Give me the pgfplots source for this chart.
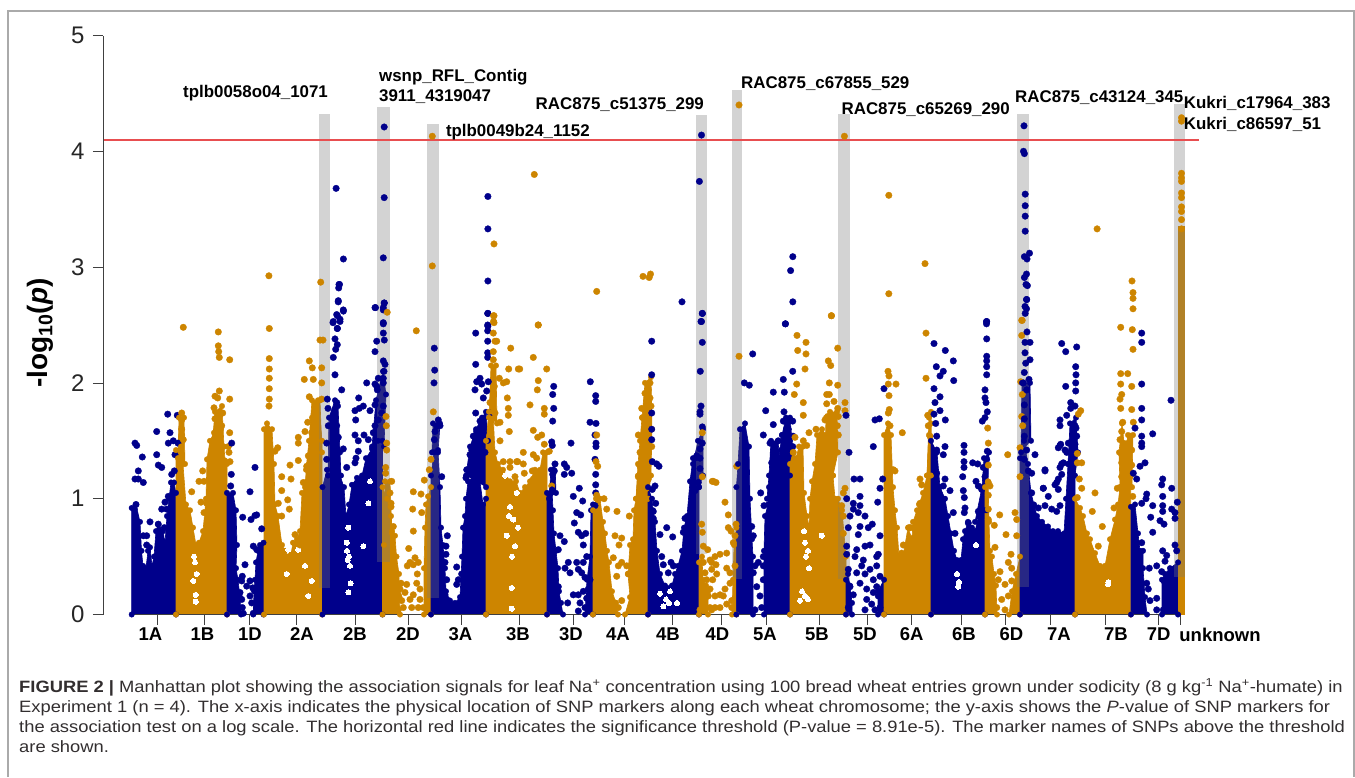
\documentclass[border=0pt]{standalone}
\usepackage{pgfplots}
\pgfplotsset{compat=1.18}
\usepackage{fontspec}
\setmainfont{Liberation Sans}
\newfontfamily\capfont{Liberation Sans}[FakeStretch=1.119]
\definecolor{nv}{RGB}{0,0,139}
\definecolor{og}{RGB}{205,133,0}
\definecolor{redl}{RGB}{232,78,80}
\definecolor{barg}{RGB}{121,121,121}
\definecolor{frameg}{RGB}{170,170,170}
\definecolor{cap}{RGB}{50,46,47}
\pgfplotsset{
 ba/.style={fill=nv,color=nv,line width=0.6pt,line join=round,mark=*,mark size=2.8pt,mark options={fill=nv,line width=0.3pt}},
 oa/.style={fill=og,color=og,line width=0.6pt,line join=round,mark=*,mark size=2.8pt,mark options={fill=og,line width=0.3pt}},
 bp/.style={only marks,color=nv,mark=*,mark size=3.3pt,mark options={fill=nv,line width=0.3pt}},
 op/.style={only marks,color=og,mark=*,mark size=3.3pt,mark options={fill=og,line width=0.3pt}},
 wh/.style={only marks,color=white,mark=*,mark size=2.5pt,mark options={fill=white,line width=0pt}},
 gb/.style={fill=barg,fill opacity=0.33,draw=none},
}
\newcommand{\lab}[3]{\node[anchor=west,inner sep=0pt,font=\fontsize{16.9}{18}\selectfont\bfseries,text=black] at (axis cs:#1,#2) {#3};}
\begin{document}
\begin{tikzpicture}
\begin{axis}[
 scale only axis,width=1252pt,height=579pt,
 xmin=103,xmax=1355,ymin=0,ymax=5,
 axis y line=left,axis x line=bottom,
 axis line style={-,line width=0.8pt,draw=black!75},
 x axis line style={draw=none},
 tick style={line width=0.8pt,draw=black!75},
 tick align=outside,
 ytick={0,1,2,3,4,5},
 major tick length=10pt,
 /pgf/number format/assume math mode=true,
 y tick label style={font=\fontsize{24}{26}\selectfont,text=black!85,xshift=-5pt},
 xtick={157,204.7,249,296,355.6,408.5,461,519.5,573.7,624.5,672,721,766.5,819,867,911.6,961,1005,1050,1105,1158,1180.6},
 xticklabels={},
 x tick label style={font=\fontsize{18.5}{19}\selectfont\bfseries,text=black,yshift=-10pt},
 extra x ticks={150.5,202.5,250,302,355,408,460.5,518,571,618,668,717.5,765,817,865,911.6,964,1011.5,1059,1116,1158.7,1220},
 extra x tick labels={1A,1B,1D,2A,2B,2D,3A,3B,3D,4A,4B,4D,5A,5B,5D,6A,6B,6D,7A,7B,7D,unknown},
 extra x tick style={major tick length=0pt,tick style={draw=none}},
 ylabel={\fontsize{28}{30}\selectfont\bfseries -log\textsubscript{10}(\textit{p})},
 every axis y label/.style={at={(axis description cs:-0.0503,0.486)},rotate=90,anchor=center},
 axis on top=false,
]
% 1A
\addplot[ba] coordinates {(131.7,0)(131.7,.92)(136,.95)(140,.8)(141.5,.55)(143,.42)(146,.40)(148,.55)(150,.58)(152,.42)(154,.5)(156,.72)(158,.78)(163,.72)(165,.62)(167,.85)(169,1.0)(171,1.14)(174,1.14)(176,1.05)(176,0)};
\addplot[bp] coordinates {(135,1.48)(136.7,1.46)(142.3,1.36)(156.7,1.58)(156.7,1.38)(167.7,1.73)(177.3,1.72)(170,1.57)(168.3,1.48)(173.3,1.50)(178,1.48)(175,1.38)(158.3,1.29)(161.7,1.27)(138.3,1.24)(135,1.17)(138.3,1.17)(143.3,1.14)(174.3,1.24)(171.7,1.21)(136,.95)(134.3,.91)(161.7,.91)(165,.97)(168.3,1.02)(150,.80)(158.3,.78)(146.7,.68)(146.7,.60)(143.3,.68)(164.3,.75)(166.7,.91)};
% 1B
\addplot[oa] coordinates {(176,0)(176,1.42)(181,1.45)(183,1.3)(186,.95)(190,.9)(193,.75)(196,.6)(199,.62)(203,.72)(206,1.0)(207,1.34)(210,1.5)(214,1.57)(221,1.6)(224,1.45)(225,1.33)(227,1.3)(227,0)};
\addplot[oa] coordinates {(178,1.35)(179,1.7)(184,1.7)(185,1.3)};
\addplot[oa] coordinates {(212,1.45)(215,1.75)(222,1.8)(224,1.45)};
\addplot[wh] coordinates {(195,.45)(193.3,.29)(196.7,.35)(195.7,.17)(195.7,.11)(194,.5)};
\addplot[op] coordinates {(181.7,1.74)(181.7,1.68)(181.7,1.60)(181.7,1.55)(183.3,1.51)(183.3,2.48)(218.3,2.44)(218.3,2.32)(218.7,2.27)(219.3,2.22)(229.7,2.20)(229.7,1.86)(219.3,1.93)(215,1.885)(217.7,1.87)(214,1.785)(222.7,1.74)(219.3,1.72)(215,1.69)(221.7,1.63)(229.7,1.57)(228.3,1.45)(230,1.32)(229,1.40)(202.7,1.24)(204,1.15)(199,1.15)(191.7,1.06)(201,.97)(206.7,.96)(204,.88)(207.7,.76)};
% 1D
\addplot[ba] coordinates {(227,0)(227,1.05)(233,1.05)(236,.9)(237,.6)(236,.4)(238,.3)(240,.15)(241,0)};
\addplot[ba] coordinates {(253.3,0)(254,.2)(255,.3)(256,.45)(258,.55)(260,.6)(263.5,.62)(263.5,0)};
\addplot[bp] coordinates {(231.7,1.48)(231.3,1.21)(230.7,1.11)(250,1.06)(255,1.27)(242.7,.84)(251,.82)(255,.855)(256.7,.86)(261.7,.74)(253.3,.59)(256.7,.56)(245,.43)(242.3,.33)(241.7,.29)(250,.29)(252.7,.23)(246.7,.245)(240,.19)(241.7,.13)(242.3,.06)(250,.16)(251.7,.10)(243.3,.01)(253.3,.01)};
% 2A
\addplot[oa] coordinates {(264,0)(264,1.6)(267,1.65)(272,1.6)(274,1.3)(275,.95)(278,.85)(282,.6)(285,.55)(288,.5)(291,.52)(293,.62)(297,.65)(300,.72)(302,1.05)(305,1.1)(307,1.15)(309,1.3)(312,1.7)(315,1.8)(318,1.85)(322,1.5)(322,0)};
\addplot[oa] coordinates {(305,1.0)(306,1.25)(309,1.5)(312,1.85)(320,1.85)(322,1.4)};
\addplot[wh] coordinates {(305,.42)(286.7,.35)(311.7,.29)(308.3,.16)(298.3,.56)(288.3,.56)};
\addplot[op] coordinates {(268.9,2.925)(269.3,2.47)(269.3,2.21)(269.3,2.12)(269.3,2.04)(269.3,1.95)(269.3,1.86)(269,1.80)(320.7,2.87)(320,2.37)(323,2.37)(309.3,2.19)(312.3,2.13)(321.7,2.13)(304.3,2.03)(313.3,2.03)(321.7,2.0)(309.3,1.88)(321.7,1.86)(298.3,1.53)(298.3,1.48)(305,1.58)(307.7,1.66)(311.7,1.57)(277.7,1.44)(275,1.41)(290,1.29)(298.3,1.33)(306.7,1.28)(281.7,1.19)(291,1.17)(281.7,1.07)(287.7,.99)(289.3,.91)(278.3,.96)(281.7,.85)(303.3,1.14)(308.3,1.37)(295,.69)(301.7,.66)(300,.6)};
% 2B
\addplot[ba] coordinates {(322.5,0)(322.5,1.1)(327,1.25)(332,1.25)(336,1.2)(340,1.2)(344,1.1)(346,.85)(349,.95)(352,1.12)(357,1.18)(362,1.2)(366,1.35)(372,1.43)(378,1.5)(382.5,1.5)(382.5,0)};
\addplot[ba] coordinates {(328,1.2)(329,1.7)(335,1.85)(338,1.8)(340,1.4)(341,1.2)};
\addplot[ba] coordinates {(372,1.45)(376,1.85)(383,2.1)(386,1.9)(384,1.45)};
\addplot[wh] coordinates {(348.3,.75)(347.7,.47)(350,.42)(346.7,.62)(350.7,.27)(348.3,.19)(363.3,.59)(370,1.15)(368.3,.96)(349,.5)(347,.55)};
\addplot[bp] coordinates {(339,2.85)(338.3,2.71)(343.3,2.63)(336.7,2.59)(340,2.55)(333.3,2.53)(337.3,2.47)(335,2.38)(337.3,2.33)(335.7,2.29)(333.3,2.22)(335,2.07)(341.7,1.94)(327.3,1.86)(336.7,1.83)(328,1.78)(335,1.77)(335,1.71)(328.3,1.63)(336.7,1.63)(335,1.54)(338.3,1.53)(326.7,1.48)(343.3,1.43)(336.7,1.37)(326.7,1.34)(333.3,1.28)(346.7,1.27)(358.7,1.87)(363.3,1.80)(355,1.76)(359.3,1.78)(355.7,1.68)(370,1.76)(375,1.81)(366.7,2.0)(375,1.99)(377.3,1.94)(355,1.55)(358.3,1.50)(364,1.55)(368.3,1.51)(373.3,1.57)(358.3,1.41)(356,1.35)(355,1.31)(375,2.65)(384.3,2.69)(383.3,2.65)(383.3,2.52)(383.3,2.43)(376.7,2.36)(384.3,2.37)(375,2.27)(383.3,2.19)(385,2.16)(384,2.10)(383.3,2.04)(378.3,2.04)(383.3,2.0)(376.7,1.97)(383.3,1.80)(381.7,1.74)(378.3,1.68)(375,1.63)(336.1,3.68)(343.4,3.07)(339.5,2.85)(338.7,2.82)(338.2,2.70)(343.4,2.62)(337.4,2.58)(340,2.53)(333,2.52)(337.4,2.47)(384.2,4.21)(384.2,3.60)(383.3,3.08)(384.2,2.69)(383.3,2.63)(375.5,2.65)(383.3,2.51)};
% 2D
\addplot[oa] coordinates {(382.5,0)(382.5,1.1)(387,1.0)(391,.85)(392,.72)(395,.68)(396.5,.5)(399,.35)(399.5,.15)(400,0)};
\addplot[oa] coordinates {(384,.6)(385,1.15)(390,1.15)(392,.7)};
\addplot[oa] coordinates {(424,0)(424,.4)(425,.75)(426,.95)(428,1.02)(431,1.1)(431,0)};
\addplot[op] coordinates {(416.3,2.45)(386,1.71)(386.3,1.63)(386.7,1.48)(386.7,1.42)(385.7,1.27)(385.7,1.22)(391.7,1.15)(390,1.05)(391,.96)(391,.93)(393.3,.76)(413.3,1.06)(421,1.04)(424.3,1.16)(412.7,.91)(421.7,.88)(413.3,.72)(408.7,.57)(415,.49)(410,.45)(413.3,.43)(418.3,.45)(407.3,.42)(417.3,.35)(401,.27)(406.7,.26)(416.7,.27)(398.3,.17)(405,.19)(420,.22)(413.3,.17)(401.7,.12)(410,.13)(420,.13)(398.3,.04)(411.7,.06)(423.3,.06)(418.3,.06)(403.3,.06)(394,.06)(395,.3)(396,.36)(400,.22)(433.3,1.75)(431,1.34)(429.3,1.25)(432.3,4.13)(432.3,3.01)(387.2,2.61)};
% 3A
\addplot[ba] coordinates {(431,0)(431,1.2)(434,1.4)(438,1.42)(440,1.1)(441,.75)(443,.6)(445,.4)(446,.2)(450,.12)(455,.1)(460,.15)(462,.5)(463,.75)(465,.85)(466,1.0)(468,1.15)(475,1.2)(480,1.15)(483,.95)(486,1.0)(486,0)};
\addplot[ba] coordinates {(432,1.4)(433,1.65)(440,1.65)(438,1.4)};
\addplot[ba] coordinates {(466,1.2)(470,1.45)(476,1.6)(482,1.7)(486,1.75)(488,1.5)(486,1.1)};
\addplot[bp] coordinates {(434.3,2.30)(434.7,2.11)(434,2.0)(438.3,1.68)(436.7,1.63)(440,1.63)(435,1.58)(434.3,1.51)(441.7,1.19)(447.3,.68)(446,.59)(446,.52)(445,.45)(446.7,.3)(456.7,.41)(458.3,.30)(461.7,.35)(456.7,.26)(445,.17)(448.3,.12)(487.9,3.61)(487.9,3.33)(487.9,2.88)(487.9,2.60)(487.9,2.49)(487.7,2.6)(487.7,2.5)(487.7,2.45)(487.7,2.36)(475.7,2.43)(487.7,2.26)(487.7,2.22)(475.7,2.16)(480,2.04)(476.7,2.01)(488.3,2.01)(475,1.94)(481.7,1.99)(486.7,1.93)(483.3,1.87)(475.7,1.74)(480,1.67)(476.7,1.58)(483.3,1.6)(473.3,1.54)(471.7,1.42)(470,1.38)(466.7,1.25)(473.3,1.28)(466,1.18)(485,1.4)(483.3,1.57)(490,1.74)};
% 3B
\addplot[oa] coordinates {(486,0)(486,1.5)(489,1.75)(493,1.75)(495,1.4)(498,1.3)(503,1.25)(510,1.15)(516,1.15)(520,1.05)(525,1.1)(530,1.15)(535,1.25)(540,1.25)(543,1.4)(547,1.4)(547,0)};
\addplot[oa] coordinates {(489,1.7)(491,2.15)(496,2.15)(497,1.65)};
\addplot[wh] coordinates {(505,1.2)(516.7,1.05)(510,.93)(513.3,.82)(506.7,.68)(515,.59)(511.7,.23)(509,.85)(512,.5)(518,.75)(511.7,.05)};
\addplot[op] coordinates {(494,2.58)(494,2.52)(493.3,2.43)(495,2.36)(496.7,2.36)(493.3,2.27)(493.3,2.2)(510.7,2.30)(508.7,2.12)(499.3,2.04)(506.7,2.01)(518.3,2.12)(494.3,1.97)(493.3,1.89)(490,1.83)(507.3,1.87)(508.3,1.78)(508.3,1.72)(509.3,1.58)(503.3,2.0)(495,1.74)(500,1.66)(500,1.5)(503.3,1.32)(510,1.32)(516.7,1.32)(510,1.27)(515,1.19)(538.3,2.5)(533.3,2.22)(519.7,2.12)(546.7,2.12)(538.3,2.02)(537.3,1.94)(530,1.81)(544.3,1.78)(544.3,1.73)(533.3,1.59)(541.7,1.55)(537.7,1.53)(544.3,1.47)(549.3,1.41)(523.3,1.40)(517.7,1.32)(523.3,1.30)(533.3,1.38)(536.7,1.35)(524.3,1.22)(532.3,1.24)(533.3,1.17)(551.7,1.11)(534.3,3.80)(494,3.20)(493.5,2.58)(493.5,2.53)(538.2,2.50)};
% 3D
\addplot[ba] coordinates {(547,0)(547,1.05)(552,1.08)(553,.9)(554,.7)(556,.55)(558,.4)(559,.2)(561,.1)(563,0)};
\addplot[ba] coordinates {(549,1.0)(551,1.25)(555,1.3)(556,1.05)};
\addplot[ba] coordinates {(585,0)(587,.3)(590,.5)(591,.9)(593,.95)(593,0)};
\addplot[bp] coordinates {(553.7,1.97)(552.7,1.90)(553.7,1.78)(552.7,1.67)(551.7,1.49)(552.3,1.46)(571,1.48)(555,1.30)(554.3,1.24)(552.7,1.21)(564.3,1.30)(566.7,1.27)(564.3,1.21)(571.7,1.22)(579.3,1.09)(573.3,1.02)(582.7,.98)(576.7,.88)(580.7,.86)(574.3,.79)(578.3,.71)(585.7,.70)(581.7,.68)(583.3,.60)(560,.68)(564.3,.63)(558.3,.56)(586.7,.50)(583.3,.45)(568.3,.45)(576.7,.45)(565,.40)(570,.36)(578.3,.39)(581.7,.36)(585,.32)(573.3,.17)(578.3,.17)(583.3,.2)(588.3,.22)(567.7,.10)(580,.10)(586.7,.14)(558.3,.24)(578.3,.03)(585,.06)(590,.3)(590.3,2.01)(595.7,1.89)(595.7,1.84)(590,1.66)(596,1.65)(595,1.55)(596,1.48)(596,1.45)(595,1.34)(595.7,1.21)(595.7,1.12)(595.7,1.05)(595,.94)};
% 4A
\addplot[oa] coordinates {(593,0)(593,.9)(596,1.0)(600,1.0)(603,.8)(605,.7)(607,.55)(609,.45)(612,.2)(616,.1)(618,0)};
\addplot[oa] coordinates {(625,0)(630,.15)(628,.35)(630,.6)(633,.65)(634,.9)(636,1.0)(638,1.2)(642,1.25)(646,1.2)(648,1.0)(648,0)};
\addplot[oa] coordinates {(636,1.0)(638,1.3)(640,1.5)(642,1.7)(645,2.0)(651,2.05)(652,1.6)(651,1.2)(648,1.0)};
\addplot[op] coordinates {(596.7,2.79)(596.7,1.55)(596,1.32)(597.7,1.28)(596.7,1.03)(604,1.0)(606.7,.91)(617,.89)(629.3,.85)(615,.68)(621.7,.66)(619,.60)(613.3,.49)(621.7,.45)(618.3,.42)(616.7,.33)(621.7,.12)(615,.10)(618.3,.06)(626.7,.42)(628.3,.35)(650,2.0)(648.3,1.94)(650,1.87)(641.7,1.78)(642.7,1.70)(651,1.8)(645,1.61)(641.7,1.54)(646.7,1.45)(640,1.40)(651.7,1.45)(640,1.28)(645,1.19)(638.3,1.19)(648.3,1.17)(646.7,1.09)(645,1.91)(646.7,1.84)(638.3,1.55)(643,2.92)(649.2,2.91)(650.5,2.94)};
% 4B
\addplot[ba] coordinates {(648,0)(648,1.1)(652,1.0)(653,.9)(655,.8)(657,.55)(660,.35)(665,.25)(672,.25)(675,.35)(678,.42)(682,.55)(684,.75)(687,.85)(690,1.15)(693,1.35)(696,1.35)(699,1.1)(699,0)};
\addplot[ba] coordinates {(693,1.3)(698,1.5)(703,1.6)(703,1.2)(699,1.1)};
\addplot[wh] coordinates {(670,.2)(663.3,.07)(669,.1)(660,.18)(666,.13)(677,.1)};
\addplot[bp] coordinates {(682,2.70)(651.7,2.36)(651.7,2.07)(651.7,1.74)(651.7,1.6)(651.7,1.51)(652.3,1.32)(656.7,1.30)(659,1.28)(655,1.11)(652.3,1.08)(655.7,.96)(653.3,.89)(653.3,.83)(666.7,.75)(672.7,.67)(660,.69)(661.7,.5)(671,.45)(663.3,.43)(673.3,.42)(668.3,.36)(685,.83)(683.3,.71)(688.3,.81)(702.3,2.6)(701,2.53)(702.3,2.35)(700.3,2.1)(701,1.8)(700,1.75)(700,1.73)(702.3,1.62)(702.3,1.48)(700,1.43)(696.7,1.37)(700,1.35)(700,1.26)(698.3,1.14)(693.3,1.11)(695,1.07)(701.5,4.14)(699.4,3.74)(702.4,2.60)(701.5,2.53)};
% 4D
\addplot[oa] coordinates {(699,0)(699,.45)(702,.5)(703,.3)(706,.25)(708,.2)(708,0)};
\addplot[oa] coordinates {(732,0)(733,.3)(734,.6)(736.4,.75)(736.4,0)};
\addplot[op] coordinates {(702.3,1.57)(702.3,1.19)(712.3,1.15)(701.7,.78)(702.3,.71)(703.3,.59)(707.7,.56)(713.3,1.15)(716,1.14)(725,.97)(728.3,.86)(728.3,.75)(731,.72)(736,.78)(733.3,.62)(736.7,1.28)(726.7,.53)(720,.52)(715,.5)(710,.47)(716,.43)(711.7,.39)(726.7,.40)(730,.36)(716.7,.35)(712.7,.3)(730,.27)(725,.22)(720,.17)(715,.16)(710,.22)(731.7,.12)(726.7,.09)(720,.06)(715,.06)(710,.06)(731.7,.06)(723.3,.16)(735,.42)(735,.68)(703.3,.45)(705,.36)(706.7,.3)(703.3,.24)(711.7,.45)(703.3,.1)(711.7,.04)(708.3,.16)(700,.04)(739,4.40)(739,2.23)};
% 5A
\addplot[ba] coordinates {(736.4,0)(736.4,1.1)(738,1.3)(740,1.6)(745,1.65)(749,1.45)(750,1.0)(752,.65)(753,.5)(753,0)};
\addplot[ba] coordinates {(764,0)(764,.55)(765,.85)(768,.95)(769,1.1)(772,1.2)(775,1.2)(778,1.3)(782,1.55)(786,1.6)(790,1.5)(790,0)};
\addplot[ba] coordinates {(767,1.0)(769,1.2)(771,1.5)(778,1.5)(780,1.3)(782,1.55)(786,1.7)(790,1.7)(793,1.4)(790,1.2)};
\addplot[bp] coordinates {(752.7,2.25)(744.3,2.0)(749.3,1.98)(785.3,2.51)(792.7,2.1)(783.3,2.03)(773.3,1.92)(784.3,1.92)(765.7,1.76)(784,1.75)(773.3,1.64)(783.3,1.67)(792.7,1.67)(763.3,1.55)(788.3,1.6)(793,1.54)(770,1.48)(778.3,1.5)(773.3,1.4)(771.7,1.31)(781.7,1.42)(792.7,1.45)(760.7,1.05)(764,.94)(758.3,.45)(755,.42)(753.3,.36)(763.3,.42)(763.3,.5)(756.7,.24)(760,.16)(755,.04)(761.7,.06)(763.3,.3)(753.3,.68)(751.7,.76)(792.8,3.09)(790.6,2.97)(792.8,2.70)(785.5,2.51)};
% 5B
\addplot[oa] coordinates {(790,0)(790,1.3)(793,1.4)(796,1.35)(799,1.45)(803,1.45)(804,1.05)(807,.85)(809,.75)(810,1.0)(812,1.15)(815,1.3)(817,1.55)(822,1.6)(826,1.55)(830,1.45)(833,1.2)(835,1.0)(838,1.0)(842,.9)(846,.5)(846,0)};
\addplot[oa] coordinates {(825,1.4)(826,1.7)(830,1.75)(837,1.75)(838,1.4)(833,1.2)};
\addplot[wh] coordinates {(805,.62)(808,.55)(806,.5)(805,.16)(808,.13)(800,.12)(802,.2)(809,.4)(821.7,.68)(804,.72)};
\addplot[op] coordinates {(831.3,2.58)(797,2.41)(806,2.35)(797.7,2.28)(806,2.25)(837.7,2.30)(828.3,2.19)(830.7,2.15)(805,2.12)(796.7,1.99)(794.3,1.9)(837.7,1.98)(829.3,2.0)(826.7,1.9)(829.3,1.9)(826.7,1.82)(803.3,1.83)(834,1.84)(837.7,1.78)(803.3,1.72)(827.7,1.71)(825,1.68)(838.3,1.71)(816,1.6)(809,1.57)(837.3,1.63)(828.3,1.55)(838.3,1.55)(795,1.53)(803.3,1.5)(806.7,1.46)(793.3,1.4)(821.7,1.25)(845,1.83)(845,1.76)(845,1.09)(843.3,1.05)(841.7,.94)(843.3,.85)(843.3,.7)(844.4,4.13)(831.5,2.58)};
% 5D
\addplot[ba] coordinates {(846,0)(846,.3)(848,.35)(850,.25)(852,.1)(852,0)};
\addplot[ba] coordinates {(878,0)(878,.2)(884,.3)(884,0)};
\addplot[bp] coordinates {(846,1.72)(849,1.40)(873.3,1.45)(875,1.68)(879.3,1.69)(884,1.95)(854,1.17)(860,1.17)(846.7,1.0)(860,1.02)(853.3,.96)(860,.94)(853.3,.91)(858.3,.88)(865,.85)(850,.85)(848.3,.75)(860,.76)(868.3,.75)(872.3,.78)(858.3,.69)(877.7,.97)(880,1.09)(882.7,1.17)(846.7,.59)(846.7,.52)(856.7,.56)(865,.59)(870,.6)(880,.68)(878.3,.52)(855,.5)(863.3,.47)(861.7,.42)(870,.39)(856.7,.36)(865,.35)(876.7,.42)(848.3,.39)(873.3,.3)(860,.27)(880,.33)(850,.24)(866.7,.22)(873.3,.19)(876.7,.24)(853.3,.17)(878.3,.16)(866.7,.13)(871.7,.09)(848.3,.06)(880,.06)(875,.04)(865,.04)(876.7,.5)};
% 6A
\addplot[oa] coordinates {(884,0)(884,1.55)(888,1.65)(891,1.55)(893,1.1)(895,.9)(897,.75)(899,.5)(903,.5)(905,.6)(908,.75)(912,.65)(913,.8)(917,.9)(919,.95)(923,1.05)(927,1.2)(929,1.55)(931,1.65)(931,0)};
\addplot[oa] coordinates {(927,1.2)(929,1.7)(931,1.75)(931,1.2)};
\addplot[op] coordinates {(888.8,3.62)(888.8,2.77)(925,3.03)(888,2.1)(889,2.06)(888.3,1.99)(889,1.89)(896,1.99)(902.3,1.57)(889.3,1.77)(888.3,1.74)(890,1.63)(893.3,1.25)(895,1.24)(903.3,.6)(901.7,.53)(909,.75)(926,2.43)(926,2.04)(927.7,1.72)(920,1.17)(921.7,1.12)(920,.96)(910.7,.75)(913.3,.66)(928.3,1.63)(930,1.54)};
% 6B
\addplot[ba] coordinates {(931,0)(931,1.5)(937,1.4)(940,1.1)(945,1.0)(948,.85)(951,.7)(954,.55)(957,.47)(961,.47)(963,.65)(965,.72)(968,.8)(972,.75)(975,.72)(980,.9)(985,.9)(985,0)};
\addplot[ba] coordinates {(975,.8)(982,1.1)(984,1.35)(989,1.4)(987,.9)};
\addplot[wh] coordinates {(958.3,.24)(959,.28)(957,.35)(976,.6)};
\addplot[bp] coordinates {(986.7,2.53)(986.7,2.38)(934,2.34)(945.3,2.28)(953.3,2.19)(936.3,2.14)(943.3,2.10)(940,2.06)(953.7,2.02)(986.7,2.23)(986.7,2.19)(986.7,2.14)(986.7,2.07)(934,1.95)(940,1.88)(935,1.83)(940,1.76)(934,1.73)(945.3,1.68)(935.7,1.65)(985,1.94)(985,1.87)(986,1.83)(987.3,1.75)(985,1.7)(982.3,1.67)(945,1.45)(936.7,1.54)(936.7,1.42)(943.3,1.38)(964,1.46)(964,1.4)(964,1.32)(964,1.27)(962.7,1.19)(972.7,1.31)(977.7,1.3)(987.3,1.41)(986.7,1.34)(976,1.15)(978.3,1.11)(983.3,1.27)(985,1.19)(945,1.17)(943.3,1.11)(950,1.07)(936.7,1.22)(963.3,1.07)(964.3,1.01)(965,.92)(964.3,.88)(953.3,.88)(981.7,1.08)(955,.7)(978.3,.89)(968.3,.79)(986.5,2.53)(986.5,2.51)};
% 6D
\addplot[oa] coordinates {(985,0)(985,1.1)(988,1.15)(989,.8)(990,.55)(992,.5)(994,.35)(996,.25)(997,0)};
\addplot[oa] coordinates {(1009,0)(1012,.2)(1016,.35)(1020,.5)(1020,0)};
\addplot[op] coordinates {(987.7,1.61)(988.3,1.48)(988.3,1.29)(988.3,1.14)(990,1.11)(988.3,1.03)(988.3,.91)(988.3,.82)(999.7,.86)(994.3,.77)(1007.7,1.38)(1006,.69)(995,.58)(1011,.52)(1008.3,.45)(1000,.37)(1011.7,.4)(1015,.88)(1016.7,.82)(1016.7,.68)(998.3,.3)(1005,.26)(1011.7,.29)(1001.7,.13)(1008.3,.16)(996.7,.06)(1005,.04)(993.3,.13)(1015,.06)(1021.7,2.54)(1021.7,2.41)(1020.7,2.01)(1022.3,1.9)(1021.7,1.71)(1022.7,1.63)(1020,1.44)(1020,1.19)(1022.2,2.54)};
% 7A
\addplot[ba] coordinates {(1020,0)(1020,1.35)(1024,1.5)(1028,1.3)(1031,1.05)(1034,.95)(1037,.85)(1042,.8)(1048,.76)(1053,.72)(1058,.72)(1064,.7)(1066,1.0)(1068,1.3)(1072,1.55)(1075,1.45)(1075,0)};
\addplot[ba] coordinates {(1021,1.4)(1022,2.0)(1030,2.0)(1031,1.5)};
\addplot[ba] coordinates {(1068,1.3)(1070,1.65)(1076,1.7)(1078,1.4)(1075,1.2)};
\addplot[bp] coordinates {(1033.3,.94)(1038.3,.92)(1045,.94)(1051.7,.91)(1056.7,.89)(1060,.94)(1048.3,1.02)(1043.3,1.09)(1031.7,1.05)(1045,1.25)(1035,1.38)(1028.3,1.24)(1055,1.12)(1058.3,1.17)(1061.7,1.3)(1065,1.42)(1060,1.46)(1070,1.48)(1075,1.63)(1076.7,1.54)(1061.7,2.34)(1065.7,2.27)(1076.7,2.31)(1075.7,2.14)(1076,2.07)(1065.7,1.97)(1075.7,2.0)(1075.7,1.93)(1070.7,1.83)(1075,1.8)(1070.7,1.78)(1066.7,1.72)(1060,1.68)(1060,1.63)(1073.3,1.61)(1076,1.61)(1075,1.54)(1060.7,1.47)(1058.3,1.44)(1068.3,1.48)(1075,1.47)(1066.7,1.4)(1063.3,1.31)(1060,1.27)(1045,1.24)(1061.7,1.21)(1043.3,1.09)(1056.7,1.14)(1058.3,1.08)(1027,2.44)(1025,2.35)(1030,2.35)(1025,2.26)(1030,2.2)(1025.7,2.17)(1024.3,2.09)(1029,2.03)(1023.3,2.0)(1026.7,1.94)(1024.3,1.81)(1024.3,1.69)(1024.3,1.54)(1026.7,1.42)(1024.3,1.34)(1031.7,1.22)(1024,4.22)(1023.5,4.0)(1024.4,3.98)(1025.2,3.63)(1025.2,3.53)(1025.2,3.44)(1025.2,3.31)(1029.5,3.12)(1024.4,3.09)(1027,3.07)(1026.5,2.94)(1024.4,2.91)(1027.4,2.84)(1026.5,2.72)(1026.5,2.64)(1025.2,2.60)(1026.7,2.72)(1025,2.66)(1026,2.85)};
% 7B
\addplot[oa] coordinates {(1075,0)(1075,1.0)(1080,.92)(1083,.85)(1087,.7)(1090,.65)(1095,.53)(1100,.42)(1105,.42)(1110,.65)(1115,.82)(1118,.95)(1120,1.1)(1125,1.12)(1128,1.2)(1130.7,1.1)(1130.7,0)};
\addplot[oa] coordinates {(1120,1.1)(1119,1.4)(1122,1.65)(1125,1.4)(1128,1.55)(1133,1.55)(1132,1.1)};
\addplot[wh] coordinates {(1108.3,.28)(1108,.26)};
\addplot[op] coordinates {(1097.1,3.33)(1132,2.88)(1133,2.78)(1133,2.73)(1133,2.64)(1120.7,2.48)(1132.3,2.46)(1133,2.29)(1120.7,2.08)(1127.7,2.08)(1120.7,1.99)(1131.7,1.97)(1121.7,1.9)(1120,1.86)(1120.7,1.78)(1131.7,1.77)(1080.7,1.76)(1078.3,1.73)(1122.7,1.66)(1133.3,1.66)(1121.7,1.58)(1120,1.51)(1123.3,1.48)(1130,1.54)(1128.3,1.48)(1126.7,1.44)(1131.7,1.42)(1121.7,1.38)(1125,1.37)(1121.7,1.31)(1131.7,1.29)(1121.7,1.19)(1130,1.19)(1077.3,1.39)(1077.3,1.31)(1081.7,1.31)(1079.3,1.17)(1081.7,1.09)(1095,1.05)(1077.3,1.01)(1092.3,.89)(1102.3,.76)(1098.3,.59)(1114,.92)(1117.3,1.09)(1132.7,1.02)};
% 7D
\addplot[ba] coordinates {(1131,0)(1131,.93)(1135,.95)(1138,.7)(1140,.55)(1143,.55)(1143,.4)(1145,.15)(1147,0)};
\addplot[ba] coordinates {(1162,0)(1162,.3)(1165,.35)(1170,.4)(1178,.45)(1178,0)};
\addplot[bp] coordinates {(1141.7,2.43)(1141.7,2.35)(1141.7,1.99)(1171,1.85)(1141.7,1.78)(1141.7,1.68)(1135,1.61)(1152.7,1.56)(1141.7,1.54)(1141.7,1.48)(1141.7,1.45)(1145,1.31)(1140,1.28)(1133.3,1.22)(1136.7,1.17)(1162.7,1.17)(1161.7,1.12)(1171.7,1.09)(1146.7,1.04)(1146,1.0)(1162.7,1.02)(1141.7,.96)(1152.7,.94)(1162.7,.94)(1162.7,.89)(1171.7,.91)(1175,.88)(1175,.83)(1150.7,.84)(1160,.81)(1164,.78)(1152.7,.71)(1141.7,.62)(1175,.6)(1162.7,.55)(1166.7,.51)(1165,.46)(1149.3,.4)(1156.7,.42)(1161.7,.37)(1146.7,.27)(1164,.29)(1148.3,.22)(1156.7,.14)(1150,.12)(1156.7,.04)(1163.3,.04)(1176.7,.55)(1177.3,.97)};
% unknown
\addplot[fill=og,draw=og,line width=0.6pt] coordinates {(1178.3,0)(1178.3,3.35)(1184.5,3.35)(1184.5,0)};
\addplot[op] coordinates {(1181.5,4.29)(1181.5,4.26)(1181.5,3.81)(1181.5,3.77)(1181.5,3.74)(1181.5,3.64)(1181.5,3.6)(1181.5,3.52)(1181.5,3.48)(1181.5,3.41)(1181.5,3.33)};
% highlight bars
\addplot[gb] coordinates {(318.7,.23)(318.7,4.325)(330.4,4.325)(330.4,.23)};
\addplot[gb] coordinates {(377.3,.456)(377.3,4.385)(389.9,4.385)(389.9,.456)};
\addplot[gb] coordinates {(427,.14)(427,4.235)(438.9,4.235)(438.9,.14)};
\addplot[gb] coordinates {(696,.52)(696,4.317)(706.7,4.317)(706.7,.52)};
\addplot[gb] coordinates {(732,.31)(732,4.53)(742.3,4.53)(742.3,.31)};
\addplot[gb] coordinates {(838.3,.31)(838.3,4.32)(850,4.32)(850,.31)};
\addplot[gb] coordinates {(1017,.235)(1017,4.325)(1029,4.325)(1029,.235)};
\addplot[gb] coordinates {(1174,.32)(1174,4.405)(1185.3,4.405)(1185.3,.32)};
% threshold and axis baseline
\addplot[redl,line width=1.5pt] coordinates {(104,4.097)(1199,4.097)};
\addplot[black!75,line width=1.6pt] coordinates {(131,0)(1181,0)};
% marker names
\lab{183}{4.506}{tplb0058o04\_1071}
\lab{379}{4.644}{wsnp\_RFL\_Contig}
\lab{379}{4.472}{3911\_4319047}
\lab{535.5}{4.406}{RAC875\_c51375\_299}
\lab{445.8}{4.169}{tplb0049b24\_1152}
\lab{741}{4.587}{RAC875\_c67855\_529}
\lab{841.4}{4.357}{RAC875\_c65269\_290}
\lab{1015}{4.466}{RAC875\_c43124\_345}
\lab{1183.7}{4.414}{Kukri\_c17964\_383}
\lab{1183.7}{4.236}{Kukri\_c86597\_51}
\end{axis}
\path[use as bounding box] (-103pt,-162.5pt) rectangle (1252pt,614.5pt);
\draw[frameg,line width=1.3pt] (-95pt,-162.5pt) -- (-95pt,603.5pt) -- (1251pt,603.5pt) -- (1251pt,-162.5pt);
\begin{scope}[every node/.style={anchor=base west,inner sep=0pt,text=cap,font=\capfont\fontsize{16.4}{20}\selectfont}]
\node at (-84pt,-78pt) {\textbf{FIGURE 2 |} Manhattan plot showing the association signals for leaf Na\textsuperscript{+} concentration using 100 bread wheat entries grown under sodicity (8 g kg\textsuperscript{-1} Na\textsuperscript{+}-humate) in};
\node at (-84pt,-98pt) {Experiment 1 (n = 4). The x-axis indicates the physical location of SNP markers along each wheat chromosome; the y-axis shows the \textit{P}-value of SNP markers for};
\node at (-84pt,-118pt) {the association test on a log scale. The horizontal red line indicates the significance threshold (P-value = 8.91e-5). The marker names of SNPs above the threshold};
\node at (-84pt,-137.5pt) {are shown.};
\end{scope}
\end{tikzpicture}
\end{document}
